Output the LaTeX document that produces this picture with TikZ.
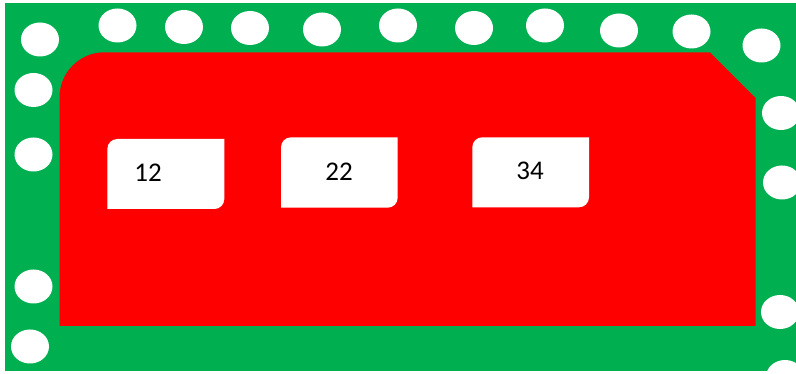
\documentclass[tikz,border=0pt]{standalone}
\usepackage{fontspec}
\setmainfont{Carlito}
\definecolor{pcbgreen}{HTML}{00B050}
\definecolor{pcbred}{HTML}{FF0000}
\newcommand\pcbbox[4]{%
  \fill[white] (#1,#4) -- (#1,#2+10) arc[start angle=180,end angle=90,radius=10pt]
    -- (#3,#2) -- (#3,#4-10) arc[start angle=0,end angle=-90,radius=10pt] -- cycle;}
\begin{document}
\begin{tikzpicture}[x=1pt,y=-1pt,
  hole/.style={fill=white},
  lbl/.style={font=\fontsize{27}{30}\selectfont, text=black, inner sep=0pt, anchor=center}]
\useasboundingbox (0,0) rectangle (796,374);
\clip (0,0) rectangle (796,374);
\fill[white] (0,0) rectangle (796,374);
\fill[pcbgreen] (5,3) rectangle (796,371);
% holes
\foreach \x/\y in {40/39.5,117.5/25.5,184/27,250/28,322/29.5,398/25.5,474/28,545/25.5,
  619/30.5,691.5/31.5,761.5/45.5,781/113,782/182.5,780/312,785/377,
  33.5/90,33.5/154.5,33.5/286.5,30/346.5}
  \fill[hole] (\x,\y) ellipse[x radius=19pt, y radius=17pt];
% red board
\fill[pcbred] (59.5,326) -- (59.5,97.3) arc[start angle=180,end angle=90,radius=45pt]
  -- (710,52.3) -- (755.5,98) -- (755.5,326) -- cycle;
% label boxes
\pcbbox{107.3}{139}{224.3}{209}
\pcbbox{281}{137.3}{397.7}{207.7}
\pcbbox{472.3}{137.3}{589}{207.3}
\node[lbl] (t12) at (148,172.5) {12};
\node[lbl] (t22) at (339,171.3) {22};
\node[lbl] (t34) at (530,171.3) {34};
\end{tikzpicture}
\end{document}
